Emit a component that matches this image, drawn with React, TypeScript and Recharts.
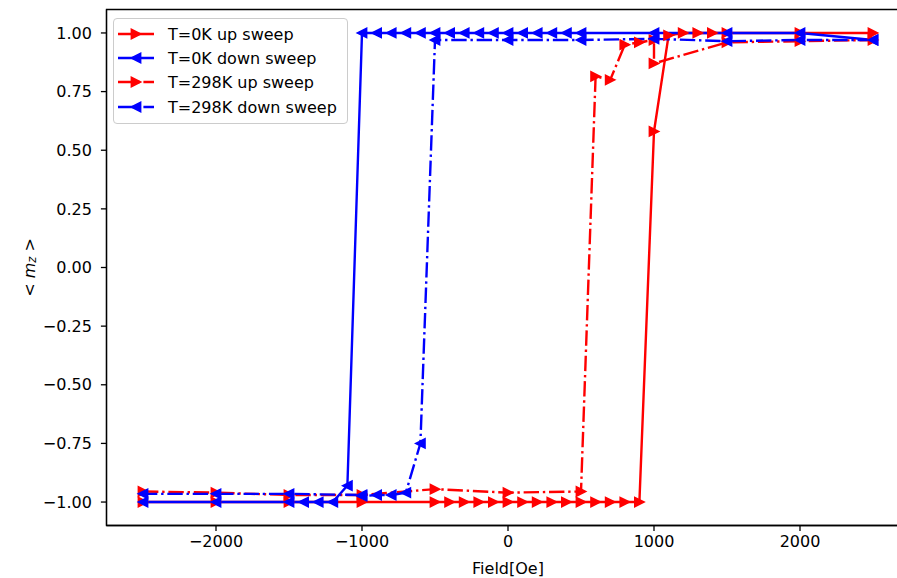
import React from 'react';
import { LineChart, Line, XAxis, YAxis, ReferenceArea, Legend } from 'recharts';

// ---- Data ----
const field0Up = [-2500, -2000, -1500, -1000, -500, -400, -300, -200, -100, 0, 100, 200, 300, 400, 500, 600, 700, 800, 900, 1000, 1100, 1200, 1300, 1400, 1500, 2000, 2500];
const mz0Up = [-1, -1, -1, -1, -1, -1, -1, -1, -1, -1, -1, -1, -1, -1, -1, -1, -1, -1, -1, 0.58, 0.99, 1, 1, 1, 1, 1, 1];

const field0Down = [2500, 2000, 1500, 1000, 500, 400, 300, 200, 100, 0, -100, -200, -300, -400, -500, -600, -700, -800, -900, -1000, -1100, -1200, -1300, -1400, -1500, -2000, -2500];
const mz0Down = [0.97, 1, 1, 1, 1, 1, 1, 1, 1, 1, 1, 1, 1, 1, 1, 1, 1, 1, 1, 1, -0.93, -1, -1, -1, -1, -1, -1];

const field298Up = [-2500, -2000, -1500, -1000, -500, 0, 500, 600, 700, 800, 900, 1000, 1000, 1500, 2000, 2500];
const mz298Up = [-0.955, -0.96, -0.97, -0.97, -0.945, -0.96, -0.955, 0.815, 0.8, 0.95, 0.96, 0.97, 0.87, 0.96, 0.965, 0.97];

const field298Down = [2500, 2000, 1500, 1000, 500, 0, -500, -600, -700, -800, -900, -1000, -1000, -1500, -2000, -2500];
const mz298Down = [0.97, 0.97, 0.965, 0.975, 0.97, 0.97, 0.97, -0.75, -0.96, -0.97, -0.97, -0.975, -0.97, -0.965, -0.965, -0.965];

const xTicks = [-2000, -1000, 0, 1000, 2000];
const yTicks = [-1, -0.75, -0.5, -0.25, 0, 0.25, 0.5, 0.75, 1];

const seriesNames = ['T=0K up sweep', 'T=0K down sweep', 'T=298K up sweep', 'T=298K down sweep'];

const toPts = (xs: number[], ys: number[]) => xs.map((x, i) => ({ x, m: ys[i] }));

const RED = '#ff0000';
const BLUE = '#0000ff';
const FONT = '"DejaVu Sans", sans-serif';
const DASHDOT = '15.4 3.8 2.4 3.8';

const triPoints = (cx: number, cy: number, dir: number, s: number) =>
  dir > 0
    ? `${cx + s},${cy} ${cx - s},${cy - s} ${cx - s},${cy + s}`
    : `${cx - s},${cy} ${cx + s},${cy - s} ${cx + s},${cy + s}`;

const triDot = (dir: number, color: string) => (p: any) => {
  const { cx, cy, index } = p;
  if (cx == null || cy == null) return <g key={`d${index}`} />;
  return (
    <polygon
      key={`d${index}`}
      points={triPoints(cx, cy, dir, 4.6)}
      fill={color}
      stroke={color}
      strokeWidth={1.6}
    />
  );
};

const minus = (s: string) => s.replace('-', '\u2212');

const LegendBox = () => {
  const rows = [
    { color: RED, dir: 1, dash: undefined as string | undefined },
    { color: BLUE, dir: -1, dash: undefined as string | undefined },
    { color: RED, dir: 1, dash: DASHDOT },
    { color: BLUE, dir: -1, dash: DASHDOT },
  ];
  const ys = [15, 39, 63, 88];
  return (
    <div
      style={{
        width: 235,
        height: 106,
        boxSizing: 'border-box',
        border: '1px solid #cccccc',
        borderRadius: 4,
        background: 'rgba(255,255,255,0.8)',
        position: 'relative',
      }}
    >
      <svg width={233} height={104} style={{ position: 'absolute', left: 0, top: 0 }}>
        {rows.map((r, i) => (
          <g key={i}>
            <line x1={4} x2={40} y1={ys[i]} y2={ys[i]} stroke={r.color} strokeWidth={2.4} strokeDasharray={r.dash} />
            <polygon points={triPoints(22, ys[i], r.dir, 4.6)} fill={r.color} stroke={r.color} strokeWidth={1.6} />
            <text x={54} y={ys[i]} dominantBaseline="central" fontFamily={FONT} fontSize={16} fill="#000">
              {seriesNames[i]}
            </text>
          </g>
        ))}
      </svg>
    </div>
  );
};

const YLabel = () => (
  <text
    x={29}
    y={267.5}
    transform="rotate(-90, 29, 267.5)"
    textAnchor="middle"
    dominantBaseline="central"
    fontFamily={FONT}
    fontSize={16}
    fill="#000"
  >
    <tspan>{'< '}</tspan>
    <tspan fontStyle="italic">m</tspan>
    <tspan fontStyle="italic" fontSize={11.5} dy={3}>z</tspan>
    <tspan dy={-3}>{' >'}</tspan>
  </text>
);

const XLabel = () => (
  <text x={508} y={568} textAnchor="middle" dominantBaseline="central" fontFamily={FONT} fontSize={16} fill="#000">
    Field[Oe]
  </text>
);

export default function App() {
  const up0 = toPts(field0Up, mz0Up);
  const down0 = toPts(field0Down, mz0Down);
  const up298 = toPts(field298Up, mz298Up);
  const down298 = toPts(field298Down, mz298Down);
  const tickStyle = { fontFamily: FONT, fontSize: 16, fill: '#000' };
  return (
    <div style={{ position: 'absolute', left: 0, top: 0, width: 897, height: 578, overflow: 'hidden', background: '#fff' }}>
      <LineChart width={915} height={578} margin={{ top: 9.5, right: 5.5, bottom: 22.5, left: 0 }}>
        <XAxis
          type="number"
          dataKey="x"
          domain={[-2750, 2750]}
          ticks={xTicks}
          interval={0}
          allowDataOverflow
          height={30}
          tickSize={5.6}
          tickMargin={5}
          tick={tickStyle}
          tickFormatter={(v: number) => minus(String(v))}
          stroke="#000"
          axisLine={{ stroke: '#000', strokeWidth: 1.3 }}
          tickLine={{ stroke: '#000', strokeWidth: 1.3 }}
          label={{ content: () => <XLabel /> }}
        />
        <YAxis
          type="number"
          dataKey="m"
          domain={[-1.1, 1.1]}
          ticks={yTicks}
          interval={0}
          allowDataOverflow
          width={106.5}
          tickSize={5.6}
          tickMargin={9}
          tick={tickStyle}
          tickFormatter={(v: number) => minus(v.toFixed(2))}
          axisLine={{ stroke: '#000', strokeWidth: 1.3 }}
          tickLine={{ stroke: '#000', strokeWidth: 1.3 }}
          label={{ content: () => <YLabel /> }}
        />
        <ReferenceArea x1={-2750} x2={2750} y1={-1.1} y2={1.1} fill="none" fillOpacity={0} stroke="#000" strokeWidth={1.3} />
        <Line
          data={up0}
          dataKey="m"
          name={seriesNames[0]}
          type="linear"
          stroke={RED}
          strokeWidth={2.4}
          dot={triDot(1, RED)}
          activeDot={false}
          isAnimationActive={false}
        />
        <Line
          data={down0}
          dataKey="m"
          name={seriesNames[1]}
          type="linear"
          stroke={BLUE}
          strokeWidth={2.4}
          dot={triDot(-1, BLUE)}
          activeDot={false}
          isAnimationActive={false}
        />
        <Line
          data={up298}
          dataKey="m"
          name={seriesNames[2]}
          type="linear"
          stroke={RED}
          strokeWidth={2.4}
          strokeDasharray={DASHDOT}
          dot={triDot(1, RED)}
          activeDot={false}
          isAnimationActive={false}
        />
        <Line
          data={down298}
          dataKey="m"
          name={seriesNames[3]}
          type="linear"
          stroke={BLUE}
          strokeWidth={2.4}
          strokeDasharray={DASHDOT}
          dot={triDot(-1, BLUE)}
          activeDot={false}
          isAnimationActive={false}
        />
        <Legend
          layout="vertical"
          align="center"
          verticalAlign="middle"
          content={() => <LegendBox />}
          wrapperStyle={{ position: 'absolute', left: 112.5, top: 18, width: 235, height: 106 }}
        />
      </LineChart>
    </div>
  );
}
